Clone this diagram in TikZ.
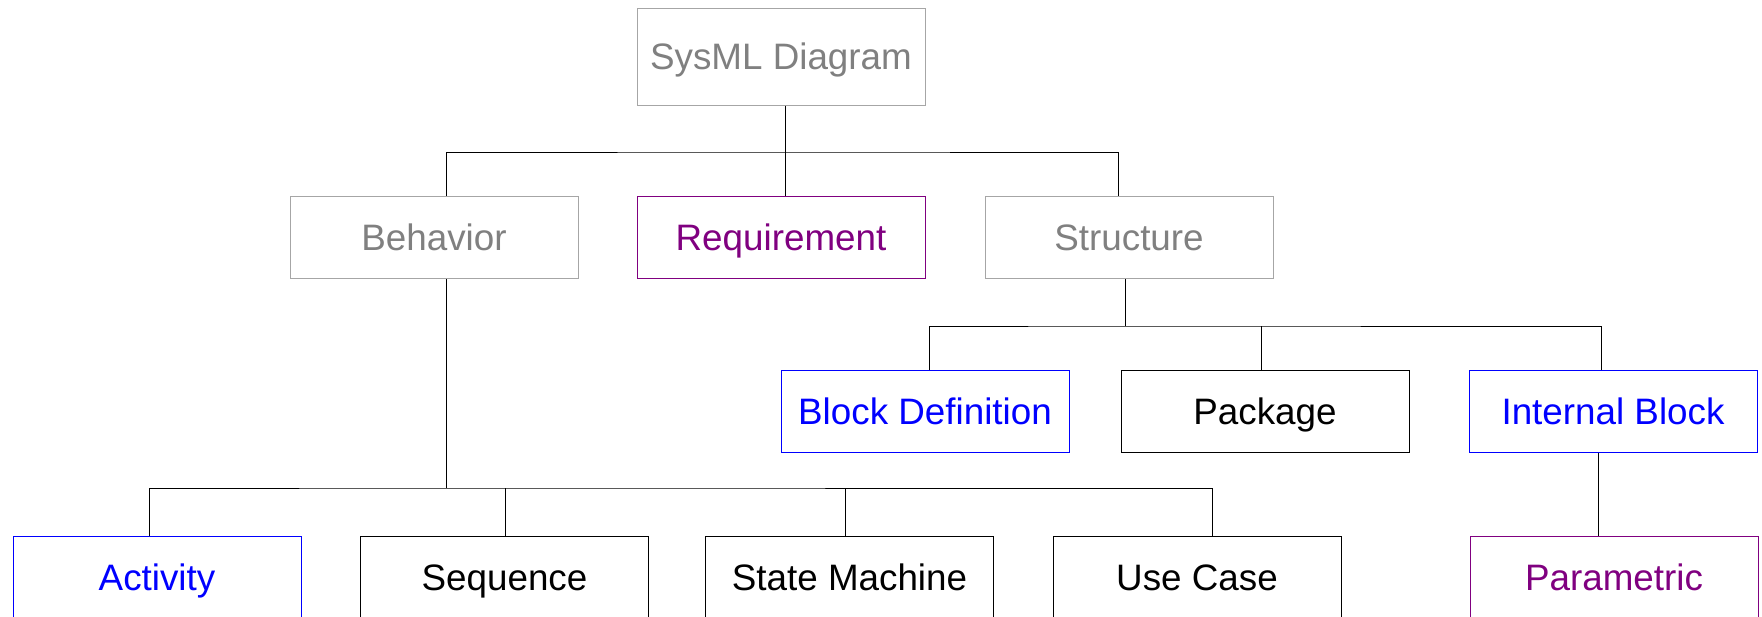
\documentclass[tikz,border=0pt]{standalone}
\usepackage{fontspec}
\setmainfont{Liberation Sans}
\definecolor{grayT}{HTML}{808080}
\definecolor{grayB}{HTML}{A6A6A6}
\definecolor{purp}{HTML}{800080}
\definecolor{blu}{HTML}{0000FF}
\tikzset{
  box/.style={draw, line width=1pt, rectangle, minimum width=288pt, minimum height=82pt, inner sep=0pt,
    text height=26.3pt, text depth=0pt,
    font=\fontsize{36.8pt}{44pt}\selectfont, anchor=center},
  graybox/.style={box, draw=grayB, text=grayT},
  purpbox/.style={box, draw=purp, text=purp},
  bluebox/.style={box, draw=blu, text=blu},
  blackbox/.style={box, draw=black, text=black},
  conn/.style={draw=black, line width=1pt}
}
\begin{document}
\begin{tikzpicture}[x=1pt,y=-1pt]
\fill[white] (0,0) rectangle (1762,616);
\clip (0,0) rectangle (1762,616);
% nodes
\node[graybox, minimum height=97pt] (sysml) at (781,56.5) {SysML Diagram};
\node[graybox] (behavior) at (434,237.5) {Behavior};
\node[purpbox] (requirement) at (781,237.5) {Requirement};
\node[graybox] (structure) at (1129,237.5) {Structure};
\node[bluebox] (blockdef) at (925,411) {Block Definition};
\node[blackbox] (package) at (1265,411) {Package};
\node[bluebox] (internal) at (1613,411) {Internal Block};
\node[bluebox] (activity) at (157,577) {Activity};
\node[blackbox] (sequence) at (504.5,577) {Sequence};
\node[blackbox] (statemachine) at (849.5,577) {State Machine};
\node[blackbox] (usecase) at (1197,577) {Use Case};
\node[purpbox] (parametric) at (1614,577) {Parametric};
% junctions
\coordinate (j1) at (785,152);
\coordinate (jb) at (446,488);
\coordinate (js) at (1125,326);
% top level
\draw[conn] ([xshift=4pt]sysml.south) -- ([xshift=4pt]requirement.north);
\draw[conn] ([xshift=12pt]behavior.north) |- (j1) -| ([xshift=-11pt]structure.north);
% behavior children
\draw[conn] ([xshift=12pt]behavior.south) -- (jb);
\draw[conn] ([xshift=-8pt]activity.north) |- (jb) -| ([xshift=15pt]usecase.north);
\path ([xshift=0.5pt]sequence.north) coordinate (seqtop);
\path ([xshift=-4.5pt]statemachine.north) coordinate (smtop);
\draw[conn] (seqtop) -- (seqtop |- jb);
\draw[conn] (smtop) -- (smtop |- jb);
% structure children
\draw[conn] ([xshift=-4pt]structure.south) -- (js);
\draw[conn] ([xshift=4pt]blockdef.north) |- (js) -| ([xshift=-12pt]internal.north);
\path ([xshift=-4pt]package.north) coordinate (pktop);
\draw[conn] (pktop) -- (pktop |- js);
% internal to parametric
\draw[conn] ([xshift=-15pt]internal.south) -- ([xshift=-16pt]parametric.north);
\end{tikzpicture}
\end{document}
